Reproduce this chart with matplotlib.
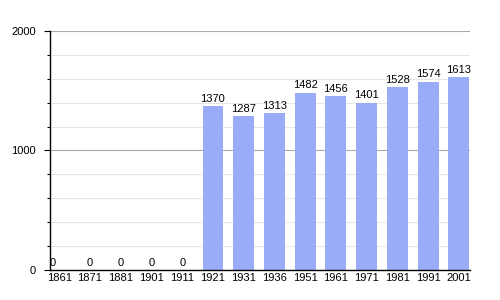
import matplotlib
matplotlib.use("Agg")
from matplotlib import pyplot as plt
import numpy as np

years = ['1861', '1871', '1881', '1901', '1911', '1921', '1931', '1936',
         '1951', '1961', '1971', '1981', '1991', '2001']
population = [0, 0, 0, 0, 0, 1370, 1287, 1313, 1482, 1456, 1401, 1528, 1574, 1613]

plt.rcParams['font.family'] = ['Liberation Sans', 'DejaVu Sans']

fig = plt.figure(figsize=(5, 3), dpi=100)
ax = fig.add_axes([0.1, 0.1, 0.84, 0.797])

x = np.arange(len(years))
ax.bar(x, population, width=0.68, color='#9aabf8', zorder=2)

for i, v in enumerate(population):
    xo = i - 0.22 if i == 0 else i
    ax.text(xo, v + 20, str(v), ha='center', va='bottom', fontsize=8, zorder=3)

ax.set_xlim(-0.3, 13.36)
ax.set_ylim(0, 2000)
ax.set_xticks(x)
ax.set_xticklabels(years, fontsize=8)
ax.set_yticks([0, 1000, 2000])
ax.set_yticklabels(['0', '1000', '2000'], fontsize=8)
ax.set_yticks(np.arange(200, 2000, 200), minor=True)
ax.tick_params(axis='x', length=0, pad=2)
ax.tick_params(axis='y', which='major', length=4, width=0.8, pad=6)
ax.tick_params(axis='y', which='minor', length=2, width=0.8)

ax.grid(axis='y', which='major', color='#aaaaaa', linewidth=0.8, zorder=0)
ax.grid(axis='y', which='minor', color='#e6e6e6', linewidth=0.8, zorder=0)
ax.set_axisbelow(True)

for s in ['top', 'right']:
    ax.spines[s].set_visible(False)
ax.spines['left'].set_linewidth(1)
ax.spines['bottom'].set_linewidth(1)

fig.savefig('out.png', dpi=100)
